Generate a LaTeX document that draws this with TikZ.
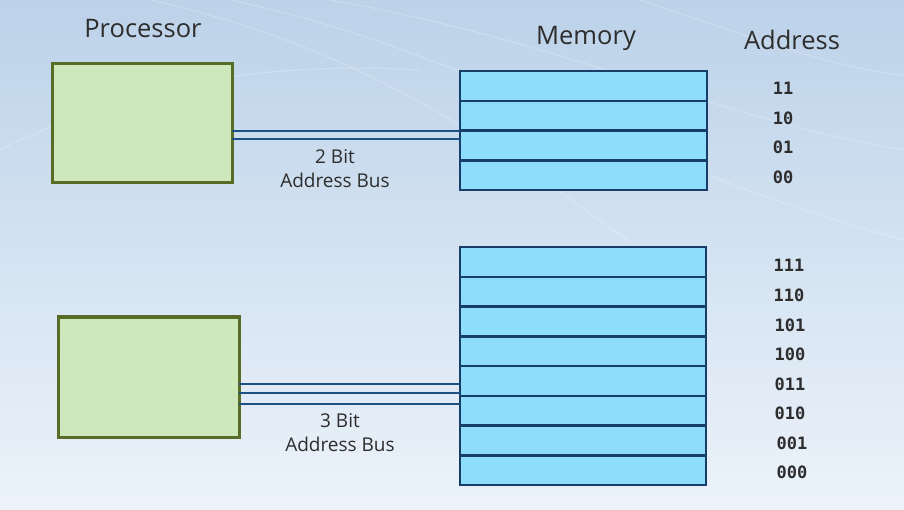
\documentclass[tikz,border=0pt]{standalone}
\usepackage{fontspec}
\setmainfont{Open Sans}
\setmonofont{DejaVu Sans Mono}
\usetikzlibrary{positioning}

\begin{document}
\begin{tikzpicture}[x={(1pt,0)}, y={(0,-1pt)},
		cpubox/.style={draw=CPU_EDGE, fill=CPU_FILL, line width={3pt}, minimum width={180pt}, minimum height={119pt}, inner sep=0pt, outer sep=0pt},
		cellbox/.style={draw=CELL_EDGE, fill=CELL_FILL, line width={2.6pt}, minimum width={247pt}, minimum height={29.75pt}, inner sep=0pt, outer sep=0pt},
		bus/.style={draw=BUS_LINE, line width={1.3pt}},
		title/.style={font={\fontsize{25.5}{28}\selectfont}, text=TEXT_GRAY},
		buslabel/.style={font={\fontsize{19}{24}\selectfont}, text=TEXT_GRAY, align=center},
		addr/.style={font={\ttfamily\bfseries\fontsize{17}{19}\selectfont}, text=TEXT_GRAY}]
				\definecolor{BG_TOP}{RGB}{188, 210, 233}
				\definecolor{BG_BOTTOM}{RGB}{236, 243, 250}
				\definecolor{CPU_EDGE}{RGB}{88, 108, 40}
				\definecolor{CPU_FILL}{RGB}{205, 233, 187}
				\definecolor{CELL_EDGE}{RGB}{22, 62, 104}
				\definecolor{CELL_FILL}{RGB}{142, 221, 250}
				\definecolor{BUS_LINE}{RGB}{30, 80, 130}
				\definecolor{TEXT_GRAY}{RGB}{45, 45, 45}

				% background
				\fill[top color=BG_TOP, bottom color=BG_BOTTOM] (0, 0) rectangle (904, 510);
				\useasboundingbox (0, 0) rectangle (904, 510);
				\begin{scope}[white, opacity=0.2, line width={1.2pt}]
					\draw (150, 0) .. controls (420, 60) and (560, 200) .. (700, 290);
					\draw (230, 0) .. controls (470, 50) and (640, 170) .. (904, 240);
					\draw (330, 0) .. controls (560, 40) and (720, 120) .. (904, 150);
					\draw (0, 150) .. controls (120, 90) and (250, 60) .. (420, 70);
					\draw (640, 0) .. controls (760, 40) and (840, 70) .. (904, 75);
				\end{scope}

				% titles
				\node[title] (cpuTitle) at (143, 29) {Processor};
				\node[title] (memTitle) at (586, 38) {Memory};
				\node[title] (addrTitle) at (792, 40) {Address};

				% 2 bit case
				\node[cpubox] (cpuA) at (142, 123.5) {};
				\node[cellbox] (memA1) at (583.5, 86) {};
				\node[cellbox] (memA2) at (583.5, 115.75) {};
				\node[cellbox] (memA3) at (583.5, 145.5) {};
				\node[cellbox] (memA4) at (583.5, 175.25) {};
				\draw[bus] (cpuA.east |- 0, 131) -- (memA3.west |- 0, 131);
				\draw[bus] (cpuA.east |- 0, 139) -- (memA3.west |- 0, 139);
				\node[buslabel] (busA) at (335, 169) {2 Bit\\Address Bus};
				\node[addr] (adrA1) at (783, 88) {11};
				\node[addr] (adrA2) at (783, 118) {10};
				\node[addr] (adrA3) at (783, 147) {01};
				\node[addr] (adrA4) at (783, 177) {00};

				% 3 bit case
				\node[cpubox, minimum width={181pt}, minimum height={120pt}] (cpuB) at (148.5, 377) {};
				\node[cellbox, minimum width={246pt}] (memB1) at (583, 262) {};
				\node[cellbox, minimum width={246pt}] (memB2) at (583, 291.75) {};
				\node[cellbox, minimum width={246pt}] (memB3) at (583, 321.5) {};
				\node[cellbox, minimum width={246pt}] (memB4) at (583, 351.25) {};
				\node[cellbox, minimum width={246pt}] (memB5) at (583, 381) {};
				\node[cellbox, minimum width={246pt}] (memB6) at (583, 410.75) {};
				\node[cellbox, minimum width={246pt}] (memB7) at (583, 440.5) {};
				\node[cellbox, minimum width={246pt}] (memB8) at (583, 470.25) {};
				\draw[bus] (cpuB.east |- 0, 384) -- (memB5.west |- 0, 384);
				\draw[bus] (cpuB.east |- 0, 393) -- (memB5.west |- 0, 393);
				\draw[bus] (cpuB.east |- 0, 404) -- (memB6.west |- 0, 404);
				\node[buslabel] (busB) at (340, 433) {3 Bit\\Address Bus};
				\node[addr] (adrB1) at (789, 265) {111};
				\node[addr] (adrB2) at (789, 295) {110};
				\node[addr] (adrB3) at (790, 325) {101};
				\node[addr] (adrB4) at (790, 354) {100};
				\node[addr] (adrB5) at (790, 384) {011};
				\node[addr] (adrB6) at (790, 413) {010};
				\node[addr] (adrB7) at (792, 443) {001};
				\node[addr] (adrB8) at (792, 472) {000};
			\end{tikzpicture}
\end{document}
